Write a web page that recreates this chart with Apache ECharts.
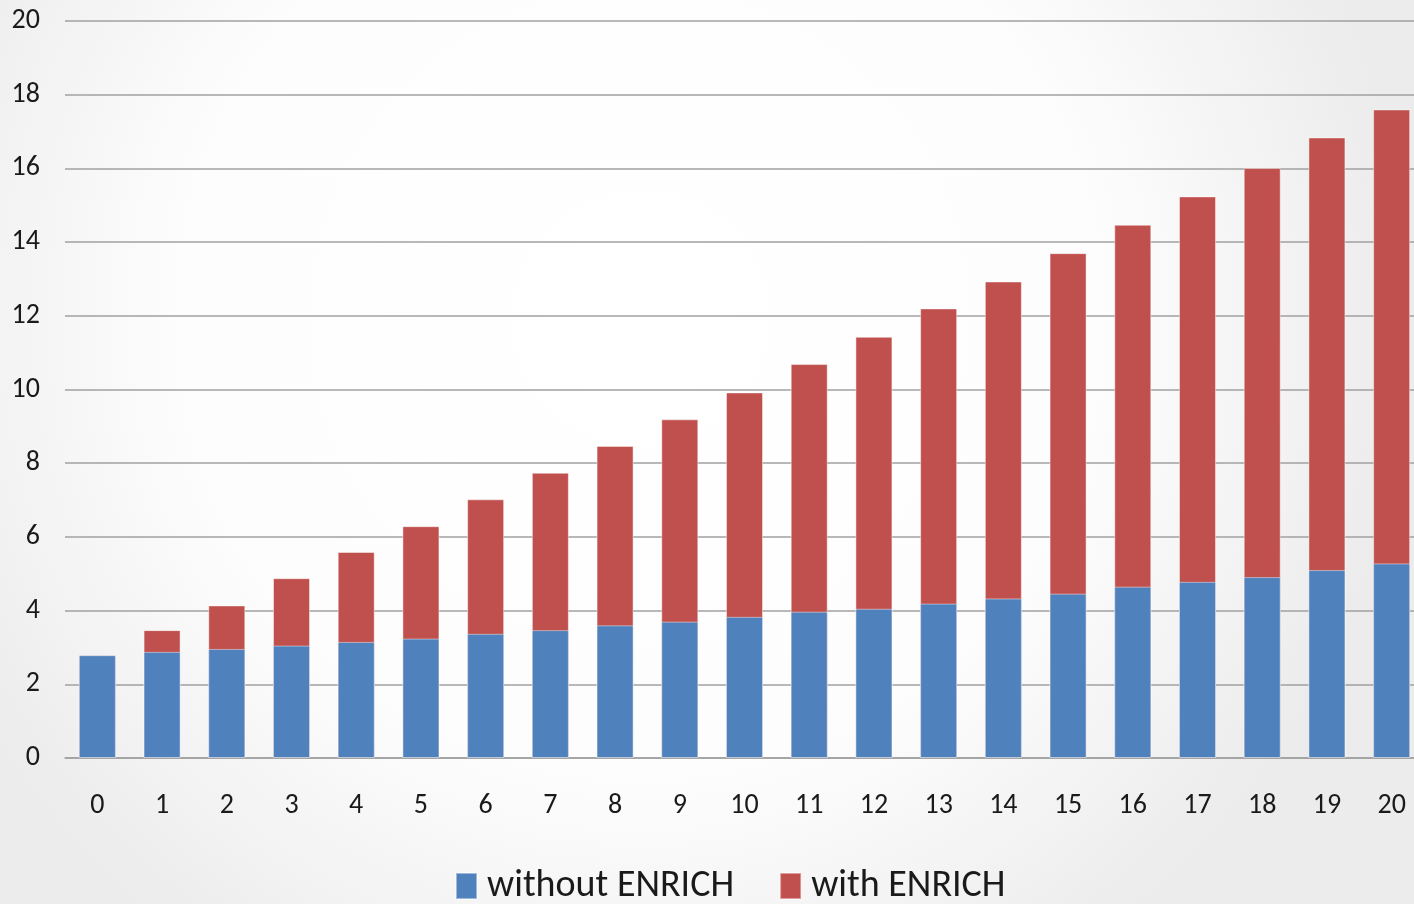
<!DOCTYPE html>
<html>
<head>
<meta charset="utf-8">
<style>
  html, body { margin: 0; padding: 0; width: 1414px; height: 904px; overflow: hidden; }
  /* canvas is a little wider than the page so the plot runs past the right edge */
  #chart { width: 1424px; height: 904px; }
</style>
<script src="https://cdn.jsdelivr.net/npm/echarts@6/dist/echarts.min.js"></script>
</head>
<body>
<div id="chart"></div>
<script>
// Categories along the x axis
const categories = ['0','1','2','3','4','5','6','7','8','9','10','11','12','13','14','15','16','17','18','19','20'];

// Series values
const withoutEnrich = [2.79, 2.88, 2.96, 3.05, 3.15, 3.24, 3.37, 3.47, 3.60, 3.70, 3.83, 3.97, 4.05, 4.19, 4.33, 4.46, 4.65, 4.78, 4.91, 5.10, 5.28];
const withEnrich    = [2.79, 3.47, 4.14, 4.88, 5.59, 6.29, 7.02, 7.74, 8.47, 9.19, 9.92, 10.69, 11.43, 12.20, 12.93, 13.70, 14.47, 15.24, 16.01, 16.84, 17.60];

// Y axis range
const yMin = 0, yMax = 20, yStep = 2;

const font = 'Carlito, "Liberation Sans Narrow", "Liberation Sans", sans-serif';
const gridLine = { color: '#a0a0a0', width: 1.5 };
const barEdge = { borderColor: 'rgba(255,255,255,0.45)', borderWidth: 1 };

const chart = echarts.init(document.getElementById('chart'), null, { renderer: 'canvas' });
chart.setOption({
  animation: false,
  backgroundColor: {
    type: 'radial', x: 0.45, y: 0.35, r: 0.85,
    colorStops: [
      { offset: 0, color: '#ffffff' },
      { offset: 0.6, color: '#fdfdfd' },
      { offset: 1, color: '#ececec' }
    ]
  },
  textStyle: { fontFamily: font },
  grid: { left: 65, top: 21, bottom: 146, right: 0, containLabel: false },
  legend: {
    data: ['without ENRICH', 'with ENRICH'],
    left: 455, top: 867,
    padding: 0,
    itemWidth: 21, itemHeight: 26, itemGap: 45,
    icon: 'rect',
    textStyle: { fontFamily: font, fontSize: 38, color: '#1a1a1a', padding: [0, 0, 0, 5] }
  },
  xAxis: {
    type: 'category',
    data: categories,
    axisLine: { show: true, lineStyle: gridLine },
    axisTick: { show: false },
    axisLabel: { fontSize: 28, color: '#1a1a1a', margin: 34, fontFamily: font }
  },
  yAxis: {
    type: 'value',
    min: yMin, max: yMax, interval: yStep,
    axisLine: { show: false },
    axisTick: { show: false },
    splitLine: { lineStyle: gridLine },
    axisLabel: { fontSize: 28, color: '#1a1a1a', margin: 25, fontFamily: font }
  },
  series: [
    {
      name: 'with ENRICH',
      type: 'bar',
      data: withEnrich,
      barWidth: 37,
      barGap: '-100%',
      itemStyle: Object.assign({ color: '#C0504D' }, barEdge)
    },
    {
      name: 'without ENRICH',
      type: 'bar',
      data: withoutEnrich,
      barWidth: 37,
      barGap: '-100%',
      itemStyle: Object.assign({ color: '#4F81BD' }, barEdge)
    }
  ]
});
</script>
</body>
</html>
